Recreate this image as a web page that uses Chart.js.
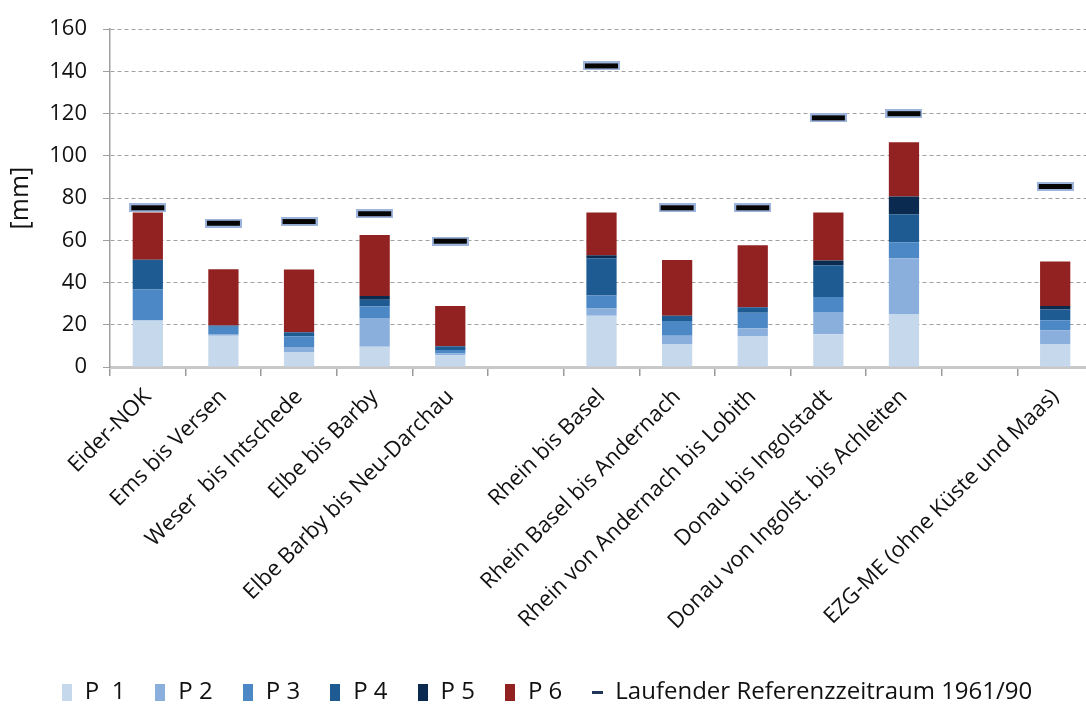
<!DOCTYPE html>
<html><head><meta charset="utf-8">
<script src="https://cdn.jsdelivr.net/npm/chart.js@4.4.1/dist/chart.umd.min.js"></script>
<style>html,body{margin:0;padding:0;overflow:hidden;background:#fff}#wrap{width:1100px;height:708px}</style>
</head><body><div id="wrap"><canvas id="c" width="1100" height="708"></canvas></div>
<script>
const categories = ["Eider-NOK","Ems bis Versen","Weser  bis Intschede","Elbe bis Barby","Elbe Barby bis Neu-Darchau","","Rhein bis Basel","Rhein Basel bis Andernach","Rhein von Andernach bis Lobith","Donau bis Ingolstadt","Donau von Ingolst. bis Achleiten","","EZG-ME (ohne Küste und Maas)"];
const p1 = [22, 14.8, 7.1, 9.6, 5.6, null, 24.3, 10.7, 14.5, 15.5, 24.9, null, 10.7];
const p2 = [0, 0.8, 2.4, 13.6, 0.8, null, 3.4, 4.1, 3.8, 10.6, 26.6, null, 6.7];
const p3 = [14.7, 3.5, 5.1, 5.4, 1.7, null, 6.2, 7.0, 7.4, 7.0, 7.6, null, 4.8];
const p4 = [14.1, 0.6, 1.9, 3.3, 1.7, null, 17.6, 2.5, 2.6, 15.1, 13.2, null, 5.0];
const p5 = [0, 0, 0, 1.7, 0, null, 1.4, 0, 0, 2.3, 8.4, null, 1.7];
const p6 = [22.4, 26.6, 29.7, 28.9, 19.1, null, 20.3, 26.4, 29.4, 22.7, 25.8, null, 21.1];
const reference = [75.4, 68.1, 68.9, 72.6, 59.6, null, 142.6, 75.4, 75.4, 118.0, 120.0, null, 85.5];
const seriesLabels = ["P  1","P 2","P 3","P 4","P 5","P 6","Laufender Referenzzeitraum 1961/90"];
const yTicks = [0,20,40,60,80,100,120,140,160];

const colors = ['#c5d8ec','#8bafdd','#4d88c6','#1f5b93','#0b2a50','#922221'];
const FONT = '"Open Sans", "Noto Sans", sans-serif';

function makeMarker(){
  const c = document.createElement('canvas'); c.width = 37; c.height = 9;
  const x = c.getContext('2d');
  x.fillStyle = '#9db5dc'; x.fillRect(0,0,37,9);
  x.fillStyle = '#050505'; x.fillRect(2,2,33,5);
  return c;
}
function makeBox(col){
  const c = document.createElement('canvas'); c.width = 10; c.height = 17;
  const x = c.getContext('2d'); x.fillStyle = col; x.fillRect(0,0,10,17); return c;
}
function makeDash(){
  const c = document.createElement('canvas'); c.width = 11; c.height = 3;
  const x = c.getContext('2d'); x.fillStyle = '#1f3658'; x.fillRect(0,0,11,3); return c;
}
const marker = makeMarker();
const legendIcons = colors.map(makeBox).concat([makeDash()]);

const seriesData = [p1,p2,p3,p4,p5,p6];
const datasets = seriesData.map((d,i)=>({
  type:'bar', label: seriesLabels[i], data: d, backgroundColor: colors[i],
  borderWidth: 0, categoryPercentage: 0.8, barPercentage: 0.5, stack: 'p'
}));
datasets.push({
  type:'line', label: seriesLabels[6], data: reference, showLine:false, stack:'ref',
  pointStyle: marker, pointRadius: 5, pointHoverRadius: 5, borderColor:'#000', backgroundColor:'#000'
});

new Chart(document.getElementById('c'), {
  type:'bar',
  data:{ labels: categories, datasets },
  options:{
    responsive:false, animation:false, devicePixelRatio:1,
    layout:{ padding:{ top:23, right:7, left:0, bottom:-6 } },
    plugins:{
      tooltip:{enabled:false},
      legend:{
        position:'bottom',
        labels:{
          usePointStyle:true, pointStyleWidth:12, boxHeight:17, padding:29,
          color:'#111', font:{family:FONT, size:24},
          generateLabels(chart){
            return chart.data.datasets.map((ds,i)=>({
              text: ds.label, fillStyle: colors[i]||'#000', strokeStyle:'rgba(0,0,0,0)', lineWidth:0,
              hidden: !chart.isDatasetVisible(i), datasetIndex:i, pointStyle: legendIcons[i], fontColor:'#111'
            }));
          }
        }
      }
    },
    scales:{
      x:{
        stacked:true,
        grid:{ drawOnChartArea:false, drawTicks:true, tickLength:9, color:'#9a9a9a', lineWidth:1.5 },
        border:{ display:true, color:'#c8c8c8', width:3 },
        ticks:{ maxRotation:45, minRotation:45, autoSkip:false, color:'#111', padding:8, font:{family:FONT, size:22} },
        afterFit(s){ s.height = 284; }
      },
      y:{
        stacked:true, min:0, max:160,
        afterBuildTicks(s){ s.ticks = yTicks.map(v=>({value:v})); },
        grid:{ color:'#a0a0a0', lineWidth:1, drawTicks:true, tickLength:7, tickColor:'#a0a0a0', tickBorderDash:[] },
        border:{ display:true, color:'#a0a0a0', width:1.5, dash:[4,3] },
        ticks:{ color:'#111', padding:16, font:{family:FONT, size:22} },
        title:{ display:true, text:'[mm]', color:'#111', font:{family:FONT, size:25}, padding:{top:6,bottom:0} },
        afterFit(s){ s.width = 110; }
      }
    }
  }
});
</script></body></html>
